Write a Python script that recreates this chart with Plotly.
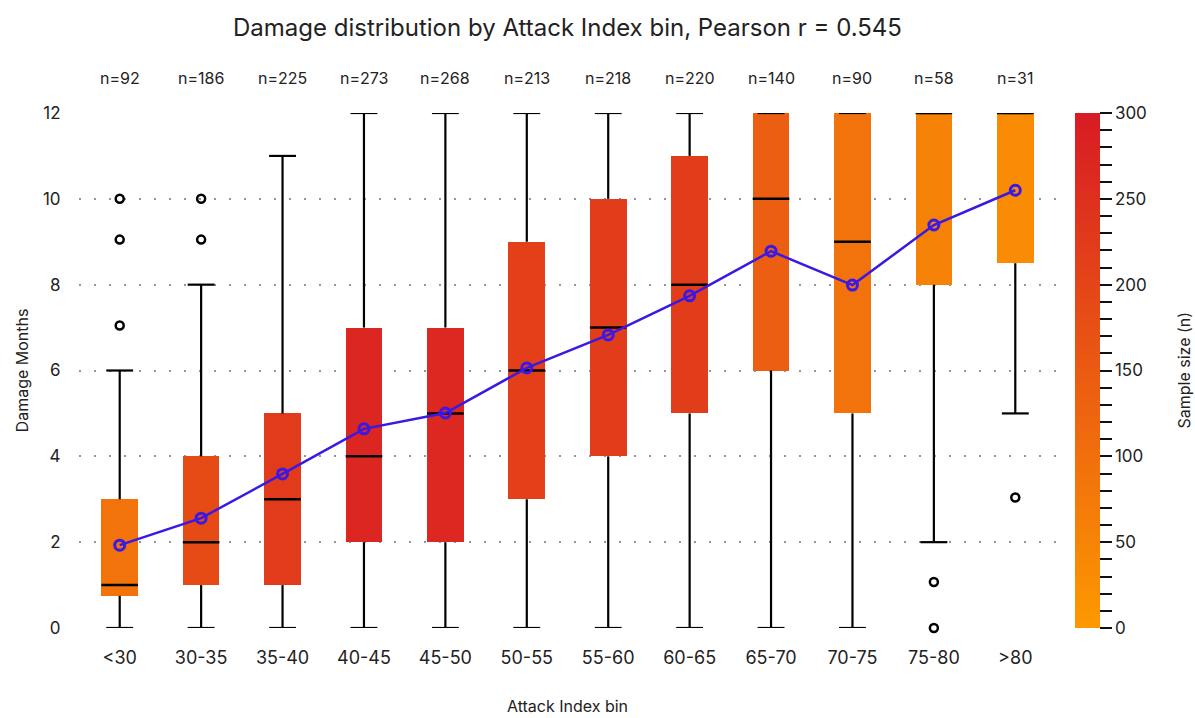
import plotly.graph_objects as go

# Attack Index bins and per-bin summary statistics of Damage Months
bins = ["<30", "30-35", "35-40", "40-45", "45-50", "50-55",
        "55-60", "60-65", "65-70", "70-75", "75-80", ">80"]
n_obs = [92, 186, 225, 273, 268, 213, 218, 220, 140, 90, 58, 31]
q1 = [0.75, 1, 1, 2, 2, 3, 4, 5, 6, 5, 8, 8.5]
median = [1, 2, 3, 4, 5, 6, 7, 8, 10, 9, 12, 12]
q3 = [3, 4, 5, 7, 7, 9, 10, 11, 12, 12, 12, 12]
whisker_low = [0, 0, 0, 0, 0, 0, 0, 0, 0, 0, 2, 5]
whisker_high = [6, 8, 11, 12, 12, 12, 12, 12, 12, 12, 12, 12]
mean = [1.93, 2.56, 3.59, 4.64, 5.01, 6.06, 6.83, 7.74, 8.78, 7.99, 9.39, 10.2]
outliers = {
    "<30": [10, 9.05, 7.05],
    "30-35": [10, 9.05],
    "75-80": [1.07, 0],
    ">80": [3.04],
}
pearson_r = 0.545

FONT = "Inter, Open Sans, sans-serif"
TXT = "#222"
BOX_W = 0.45
CAP_W = 0.33
xs = list(range(len(bins)))

fig = go.Figure()

# Interquartile boxes, coloured by sample size
fig.add_trace(go.Bar(
    x=xs,
    y=[b - a for a, b in zip(q1, q3)],
    base=q1,
    width=BOX_W,
    marker=dict(
        color=n_obs,
        cmin=0, cmax=300,
        colorscale=[[0, "#FD9900"], [1, "#D81B24"]],
        line=dict(width=0),
        showscale=True,
        colorbar=dict(
            thickness=25,
            len=1, lenmode="fraction", ypad=0,
            y=0.5, yanchor="middle",
            x=1.0194, xanchor="left", xpad=0,
            outlinewidth=0,
            ticks="outside", ticklen=12, tickwidth=2, tickcolor="#111",
            tickvals=list(range(0, 301, 10)),
            ticktext=[str(v) if v % 50 == 0 else "" for v in range(0, 301, 10)],
            tickfont=dict(size=17, family=FONT, color=TXT),
        ),
    ),
    hoverinfo="skip",
    showlegend=False,
))

# Whiskers (vertical stems) and caps
wx, wy = [], []
for i in xs:
    wx += [i, i, None, i, i, None]
    wy += [whisker_low[i], q1[i], None, q3[i], whisker_high[i], None]
    wx += [i - CAP_W / 2, i + CAP_W / 2, None, i - CAP_W / 2, i + CAP_W / 2, None]
    wy += [whisker_low[i], whisker_low[i], None, whisker_high[i], whisker_high[i], None]
fig.add_trace(go.Scatter(x=wx, y=wy, mode="lines",
                         line=dict(color="#000", width=2.2),
                         hoverinfo="skip", showlegend=False, cliponaxis=False))

# Median bars
mx, my = [], []
for i in xs:
    mx += [i - BOX_W / 2, i + BOX_W / 2, None]
    my += [median[i], median[i], None]
fig.add_trace(go.Scatter(x=mx, y=my, mode="lines",
                         line=dict(color="#000", width=2.5),
                         hoverinfo="skip", showlegend=False, cliponaxis=False))

# Outliers
ox, oy = [], []
for name, vals in outliers.items():
    i = bins.index(name)
    ox += [i] * len(vals)
    oy += vals
fig.add_trace(go.Scatter(x=ox, y=oy, mode="markers",
                         marker=dict(symbol="circle-open", size=8, color="#000",
                                     line=dict(width=2.5)),
                         hoverinfo="skip", showlegend=False, cliponaxis=False))

# Mean per bin
fig.add_trace(go.Scatter(x=xs, y=mean, mode="lines+markers",
                         line=dict(color="#3A18E6", width=2.5),
                         marker=dict(symbol="circle-open", size=10, color="#3A18E6",
                                     line=dict(width=3)),
                         showlegend=False, cliponaxis=False))

# Sample-size labels above each bin
for i, n in enumerate(n_obs):
    fig.add_annotation(x=i, y=1.068, xref="x", yref="paper",
                       text=f"n={n}", showarrow=False,
                       font=dict(size=16, family=FONT, color=TXT),
                       yanchor="middle")

# Colour bar title
fig.add_annotation(x=1.13, y=0.5, xref="paper", yref="paper",
                   text="Sample size (n)", textangle=-90, showarrow=False,
                   font=dict(size=16, family=FONT, color=TXT),
                   xanchor="center", yanchor="middle")

fig.update_layout(
    width=1195, height=718,
    margin=dict(l=79, r=139, t=113, b=90, autoexpand=False),
    paper_bgcolor="white", plot_bgcolor="white",
    font=dict(family=FONT, color=TXT),
    title=dict(text=f"Damage distribution by Attack Index bin, Pearson r = {pearson_r}",
               x=0.5, xref="paper", xanchor="center",
               y=0.962, yref="container", yanchor="middle",
               font=dict(size=24, family=FONT, color=TXT)),
    bargap=0,
)
fig.update_xaxes(
    range=[-0.5, len(bins) - 0.5],
    tickvals=xs, ticktext=bins, automargin=False,
    tickfont=dict(size=18, family=FONT, color=TXT),
    ticks="outside", ticklen=13, tickcolor="rgba(0,0,0,0)",
    showgrid=False, zeroline=False, showline=False,
    title=dict(text="Attack Index bin", standoff=34,
               font=dict(size=16, family=FONT, color=TXT)),
)
fig.update_yaxes(
    range=[0, 12], tickvals=[0, 2, 4, 6, 8, 10, 12], automargin=False,
    tickfont=dict(size=17, family=FONT, color=TXT),
    ticks="outside", ticklen=14, tickcolor="rgba(0,0,0,0)",
    showgrid=True, gridcolor="#8C95A5", gridwidth=2, griddash="2px,13px",
    zeroline=False, showline=False,
    title=dict(text="Damage Months", standoff=10,
               font=dict(size=16, family=FONT, color=TXT)),
)

fig.write_html("out.html")
